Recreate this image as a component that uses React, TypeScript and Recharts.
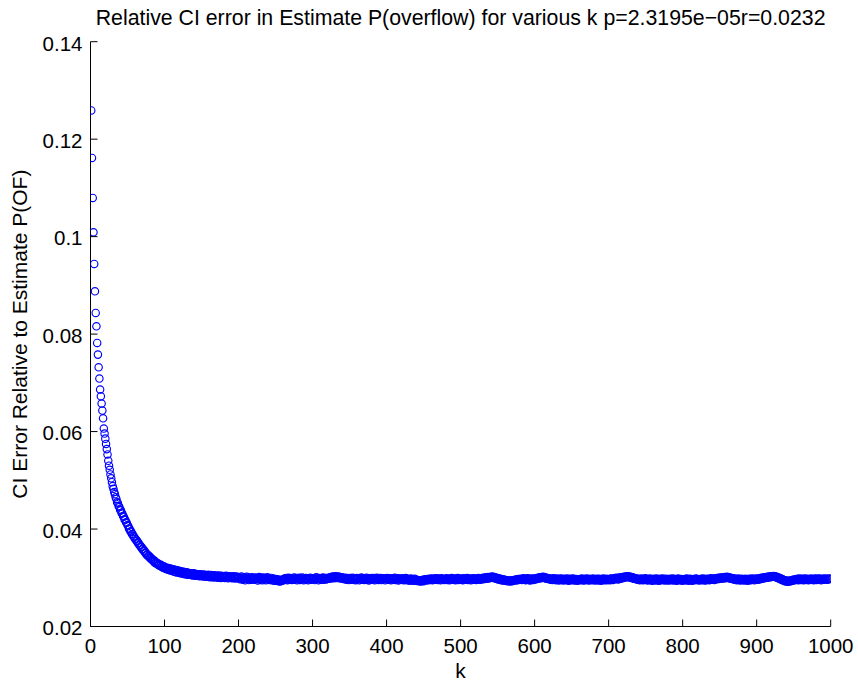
import React from "react";
import { ScatterChart, Scatter, XAxis, YAxis } from "recharts";

// CI error values, in units of 1e-5, for k = 1 .. 200
const ciErrorK1to200: number[] = [
  12590, 11614, 10794, 10089, 9440, 8878, 8435, 8160, 7819, 7579,
  7319, 7087, 6862, 6724, 6574, 6431, 6273, 6062, 5960, 5855,
  5745, 5640, 5530, 5400, 5300, 5215, 5120, 5040, 4960, 4880,
  4826, 4758, 4714, 4652, 4618, 4549, 4530, 4471, 4452, 4398,
  4383, 4330, 4318, 4266, 4251, 4198, 4190, 4139, 4128, 4082,
  4061, 4008, 3998, 3951, 3947, 3898, 3893, 3850, 3842, 3801,
  3796, 3761, 3758, 3712, 3711, 3672, 3668, 3629, 3631, 3588,
  3589, 3548, 3552, 3511, 3508, 3469, 3478, 3440, 3452, 3409,
  3418, 3380, 3392, 3358, 3362, 3321, 3346, 3298, 3315, 3282,
  3295, 3258, 3274, 3242, 3266, 3228, 3247, 3205, 3238, 3196,
  3214, 3182, 3205, 3171, 3198, 3160, 3188, 3149, 3184, 3142,
  3170, 3131, 3168, 3122, 3161, 3108, 3152, 3117, 3141, 3098,
  3138, 3092, 3129, 3087, 3125, 3078, 3120, 3071, 3112, 3069,
  3105, 3062, 3098, 3064, 3091, 3056, 3088, 3049, 3094, 3052,
  3082, 3041, 3079, 3045, 3070, 3036, 3074, 3031, 3068, 3040,
  3061, 3025, 3066, 3030, 3058, 3019, 3052, 3027, 3060, 3015,
  3049, 3012, 3055, 3020, 3043, 3008, 3050, 3018, 3039, 3010,
  3041, 3003, 3046, 3012, 3035, 2998, 3040, 3009, 3030, 3001,
  3033, 2994, 3039, 3004, 3025, 2990, 3031, 3007, 3022, 2995,
  3028, 2989, 3030, 2998, 3018, 2984, 3027, 3001, 3015, 2990,
];

// CI error values, in units of 1e-5, for k = 201 .. 1000
const ciErrorK201to1000: number[] = [
  3012, 2968, 2991, 3024, 2977, 2959, 3008, 2986, 2949, 2997, 3019, 2972, 2988, 2954, 3003, 2981, 2962, 3011, 2975, 2993,
  2958, 2996, 3007, 2969, 2981, 2944, 2990, 3015, 2962, 2978, 2999, 2951, 2986, 3004, 2967, 2975, 2948, 2992, 3010, 2963,
  2984, 2957, 2971, 2996, 2949, 2968, 2982, 2941, 2963, 2975, 2938, 2955, 2970, 2929, 2947, 2925, 2951, 2936, 2962, 2944,
  2973, 2958, 2989, 2967, 2995, 2952, 2980, 3001, 2964, 2977, 2990, 2956, 2984, 2969, 3003, 2961, 2979, 2993, 2948, 2986,
  2971, 2999, 2957, 2983, 2966, 3006, 2975, 2950, 2988, 2969, 2994, 2962, 2981, 2947, 2990, 2973, 3002, 2959, 2978, 2985,
  2965, 2992, 2953, 2980, 3008, 2970, 2986, 2949, 2997, 2974, 2960, 2991, 2977, 3004, 2958, 2983, 2995, 2967, 2989, 2973,
  3001, 2978, 2994, 3012, 2985, 3020, 2999, 3025, 2990, 3015, 3031, 2997, 3022, 3009, 3028, 2993, 3017, 3004, 2986, 3011,
  2979, 2996, 2968, 2984, 3002, 2961, 2989, 2975, 2954, 2993, 2971, 2986, 2958, 2999, 2976, 2963, 2988, 2952, 2980, 2994,
  2967, 2983, 2949, 2990, 2972, 3003, 2960, 2978, 2992, 2955, 2985, 2970, 2998, 2962, 2981, 2946, 2989, 2974, 2959, 2993,
  2977, 2964, 2996, 2950, 2982, 2968, 3000, 2973, 2957, 2987, 2970, 2994, 2953, 2979, 2965, 2991, 2976, 2948, 2984, 2969,
  2995, 2958, 2980, 2966, 2992, 2951, 2978, 2987, 2961, 2975, 2999, 2956, 2983, 2967, 2990, 2944, 2972, 2985, 2960, 2979,
  2964, 2988, 2952, 2976, 2969, 2993, 2947, 2981, 2958, 2973, 2940, 2966, 2985, 2950, 2971, 2937, 2962, 2978, 2945, 2959,
  2933, 2955, 2941, 2928, 2950, 2924, 2946, 2935, 2958, 2930, 2952, 2968, 2943, 2961, 2976, 2949, 2970, 2957, 2983, 2962,
  2975, 2951, 2987, 2966, 2979, 2958, 2991, 2970, 2955, 2984, 2963, 2977, 2949, 2988, 2972, 2960, 2981, 2954, 2976, 2967,
  2990, 2957, 2979, 2965, 2948, 2983, 2970, 2995, 2959, 2974, 2962, 2986, 2951, 2978, 2969, 2993, 2955, 2980, 2966, 2984,
  2961, 2976, 2952, 2989, 2971, 2958, 2983, 2967, 2994, 2956, 2979, 2963, 2987, 2950, 2975, 2968, 2991, 2960, 2982, 2970,
  2955, 2985, 2972, 2996, 2964, 2980, 2958, 2990, 2976, 3001, 2968, 2993, 2982, 3008, 2979, 2998, 3014, 2987, 3006, 2995,
  3018, 3003, 3024, 2997, 3015, 2990, 3009, 2984, 2975, 2996, 2967, 2985, 2960, 2978, 2952, 2970, 2946, 2963, 2957, 2940,
  2953, 2936, 2948, 2930, 2944, 2927, 2941, 2922, 2939, 2948, 2934, 2955, 2942, 2961, 2950, 2968, 2947, 2972, 2958, 2975,
  2962, 2981, 2955, 2970, 2988, 2959, 2976, 2950, 2984, 2966, 2991, 2957, 2973, 2945, 2980, 2967, 2986, 2953, 2978, 2964,
  2983, 2970, 2995, 2978, 3001, 2986, 3008, 2991, 3012, 2997, 3019, 3004, 3015, 2990, 3006, 2982, 2996, 2975, 2988, 2968,
  2979, 2960, 2985, 2953, 2971, 2990, 2958, 2976, 2949, 2982, 2965, 2973, 2946, 2980, 2961, 2987, 2955, 2969, 2943, 2977,
  2958, 2974, 2950, 2983, 2963, 2941, 2972, 2956, 2979, 2947, 2966, 2985, 2952, 2970, 2944, 2976, 2961, 2939, 2968, 2954,
  2973, 2948, 2965, 2982, 2951, 2969, 2942, 2975, 2959, 2986, 2953, 2967, 2945, 2978, 2962, 2950, 2971, 2957, 2984, 2963,
  2946, 2970, 2958, 2977, 2943, 2965, 2980, 2952, 2968, 2941, 2974, 2960, 2983, 2949, 2966, 2955, 2979, 2947, 2969, 2961,
  2975, 2952, 2984, 2963, 2978, 2957, 2990, 2969, 2982, 2998, 2973, 2991, 2966, 3003, 2985, 2978, 3009, 2992, 3014, 2996,
  3020, 3005, 3027, 3011, 3030, 3016, 3033, 3008, 3022, 2999, 3013, 2990, 3004, 2982, 2995, 2973, 2988, 2965, 2980, 2958,
  2974, 2951, 2969, 2985, 2956, 2972, 2947, 2978, 2962, 2988, 2954, 2970, 2943, 2976, 2959, 2983, 2950, 2967, 2940, 2973,
  2958, 2979, 2946, 2965, 2984, 2952, 2971, 2939, 2962, 2977, 2948, 2968, 2985, 2955, 2974, 2942, 2966, 2980, 2951, 2969,
  2944, 2963, 2978, 2950, 2972, 2957, 2986, 2945, 2968, 2954, 2976, 2940, 2961, 2982, 2949, 2970, 2958, 2975, 2938, 2964,
  2953, 2971, 2946, 2967, 2983, 2955, 2974, 2941, 2962, 2979, 2950, 2968, 2937, 2960, 2976, 2948, 2971, 2985, 2957, 2973,
  2960, 2943, 2969, 2954, 2978, 2947, 2965, 2984, 2952, 2970, 2945, 2963, 2980, 2958, 2975, 2950, 2967, 2990, 2961, 2979,
  2964, 2985, 2956, 2973, 2992, 2968, 2983, 2999, 2974, 2990, 3004, 2981, 2997, 3010, 2987, 3003, 3016, 2993, 3008, 3021,
  2999, 3012, 2988, 3005, 2981, 2996, 2973, 2989, 2966, 2982, 2958, 2975, 2951, 2970, 2985, 2955, 2972, 2946, 2968, 2980,
  2957, 2971, 2943, 2966, 2979, 2952, 2969, 2940, 2963, 2977, 2950, 2972, 2956, 2984, 2961, 2975, 2948, 2970, 2987, 2964,
  2978, 2960, 2985, 2970, 2993, 2975, 2998, 2983, 3004, 2989, 3010, 2994, 3015, 3001, 3021, 3006, 3026, 3011, 3030, 3016,
  3033, 3019, 3036, 3024, 3031, 3010, 3022, 2998, 3011, 2985, 2997, 2970, 2983, 2956, 2968, 2942, 2955, 2931, 2946, 2925,
  2938, 2920, 2934, 2926, 2941, 2929, 2950, 2937, 2958, 2945, 2966, 2953, 2971, 2960, 2977, 2951, 2968, 2983, 2957, 2973,
  2962, 2979, 2948, 2969, 2985, 2955, 2972, 2960, 2981, 2950, 2967, 2976, 2958, 2984, 2963, 2970, 2952, 2978, 2966, 2982,
  2955, 2973, 2961, 2987, 2968, 2979, 2950, 2971, 2964, 2983, 2958, 2976, 2969, 2985, 2962, 2974, 2980, 2967, 2978, 2985,
];

const VALUE_UNIT = 1e-5;
const FIRST_K = 1;

const xTicks = [0, 100, 200, 300, 400, 500, 600, 700, 800, 900, 1000];
const yTicks = [0.02, 0.04, 0.06, 0.08, 0.1, 0.12, 0.14];

const titleText = "Relative CI error in Estimate P(overflow) for various k p=2.3195e\u221205r=0.0232";
const xLabelText = "k";
const yLabelText = "CI Error Relative to Estimate P(OF)";

const points = [...ciErrorK1to200, ...ciErrorK201to1000].map((v, i) => ({
  k: FIRST_K + i,
  err: v * VALUE_UNIT,
}));

const FONT = "'Liberation Sans', Arial, Helvetica, sans-serif";
const FS = 20.5;
const LABEL_FS = 21;
const TITLE_FS = 21.3;

const W = 858;
const H = 684;
const PLOT_LEFT = 90.5;
const PLOT_RIGHT = 830.7;
const PLOT_TOP = 41.7;
const PLOT_BOTTOM = 626.5;
const Y_AXIS_W = 60;
const X_AXIS_H = 30;

const fmtY = (v: number) => String(Number(v.toFixed(2)));

const XTick = (props: any) => {
  const { x, y, payload } = props;
  return (
    <g>
      <line x1={x} x2={x} y1={y} y2={y - 7} stroke="#000" strokeWidth={1} />
      <text x={x} y={y + 26.5} textAnchor="middle" fontSize={FS} fontFamily={FONT} fill="#000">
        {payload.value}
      </text>
    </g>
  );
};

const YTick = (props: any) => {
  const { x, y, payload } = props;
  return (
    <g>
      <line x1={x} x2={x + 7} y1={y} y2={y} stroke="#000" strokeWidth={1} />
      <text x={x - 8} y={y + 8.8} textAnchor="end" fontSize={FS} fontFamily={FONT} fill="#000">
        {fmtY(payload.value)}
      </text>
    </g>
  );
};

const Circle = (props: any) => {
  const { cx, cy } = props;
  if (cx == null || cy == null) return null;
  return <circle cx={cx} cy={cy} r={3.7} fill="none" stroke="#0000ff" strokeWidth={1.15} />;
};

const plotCx = (PLOT_LEFT + PLOT_RIGHT) / 2;
const plotCy = (PLOT_TOP + PLOT_BOTTOM) / 2;
const Y_LABEL_X = 27;

export default function App() {
  return (
    <div style={{ position: "absolute", left: 0, top: 0, width: W, height: H, background: "#fff" }}>
      <ScatterChart
        width={W}
        height={H}
        margin={{
          top: PLOT_TOP,
          right: W - PLOT_RIGHT,
          bottom: H - PLOT_BOTTOM - X_AXIS_H,
          left: PLOT_LEFT - Y_AXIS_W,
        }}
      >
        <XAxis
          type="number"
          dataKey="k"
          domain={[0, 1000]}
          ticks={xTicks}
          interval={0}
          height={X_AXIS_H}
          axisLine={{ stroke: "#000", strokeWidth: 1 }}
          tickLine={false}
          tickSize={0}
          tickMargin={0}
          tick={<XTick />}
          allowDataOverflow
        />
        <YAxis
          type="number"
          dataKey="err"
          domain={[0.02, 0.14]}
          ticks={yTicks}
          interval={0}
          width={Y_AXIS_W}
          axisLine={{ stroke: "#000", strokeWidth: 1 }}
          tickLine={false}
          tickSize={0}
          tickMargin={0}
          tick={<YTick />}
          allowDataOverflow
        />
        <Scatter data={points} shape={<Circle />} isAnimationActive={false} />
        <text x={plotCx} y={25} textAnchor="middle" fontSize={TITLE_FS} fontFamily={FONT} fill="#000">
          {titleText}
        </text>
        <text x={plotCx} y={678} textAnchor="middle" fontSize={LABEL_FS} fontFamily={FONT} fill="#000">
          {xLabelText}
        </text>
        <text
          x={Y_LABEL_X}
          y={plotCy}
          textAnchor="middle"
          fontSize={LABEL_FS}
          fontFamily={FONT}
          fill="#000"
          transform={`rotate(-90, ${Y_LABEL_X}, ${plotCy})`}
        >
          {yLabelText}
        </text>
      </ScatterChart>
    </div>
  );
}
